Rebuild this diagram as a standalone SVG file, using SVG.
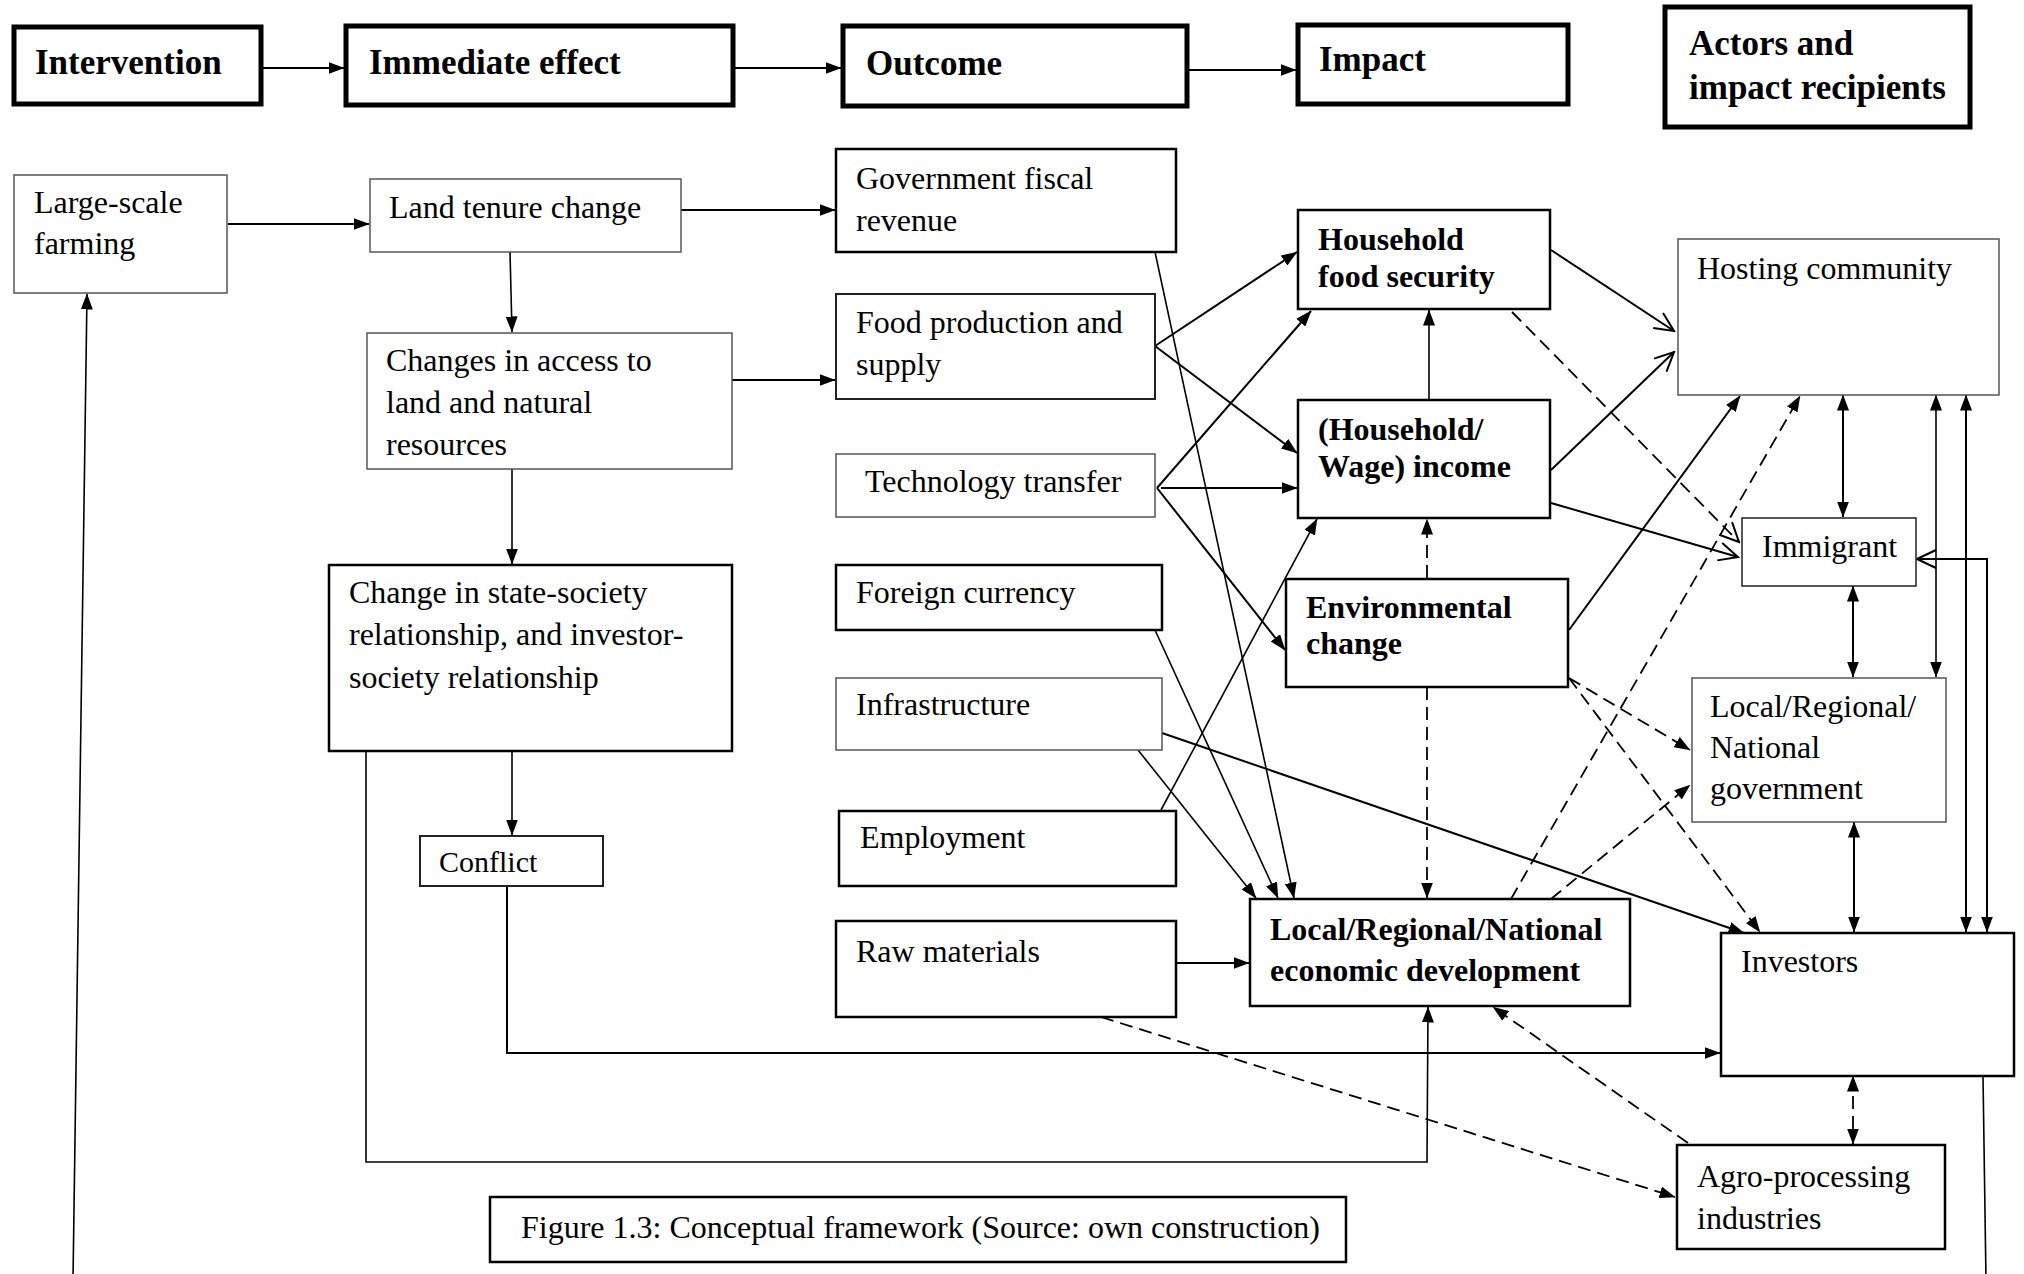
<svg xmlns="http://www.w3.org/2000/svg" width="2024" height="1274" viewBox="0 0 2024 1274">
<style>
text{font-family:"Liberation Serif","Times New Roman",serif;font-size:32px;fill:#000}
.b{font-weight:bold}
.h{font-weight:bold;font-size:35px}
.hdr{fill:#fff;stroke:#000;stroke-width:5}
.tk{fill:#fff;stroke:#000;stroke-width:2.5}
.md{fill:#fff;stroke:#222;stroke-width:2}
.tn{fill:#fff;stroke:#555;stroke-width:1.5}
.c{fill:none;stroke:#000;stroke-width:2}
.c1{fill:none;stroke:#000;stroke-width:1.6}
.d{fill:none;stroke:#000;stroke-width:1.8;stroke-dasharray:13 7}
.f{marker-end:url(#af)}
.fs{marker-start:url(#af)}
.o{marker-end:url(#ao)}
.os{marker-start:url(#ao)}
</style>
<defs>
<marker id="af" markerUnits="userSpaceOnUse" viewBox="0 0 16 12" markerWidth="16" markerHeight="12" refX="15.5" refY="6" orient="auto-start-reverse"><path d="M0,0 L16,6 L0,12 z" fill="#000"/></marker>
<marker id="ao" markerUnits="userSpaceOnUse" viewBox="0 0 22 20" markerWidth="22" markerHeight="20" refX="20" refY="10" orient="auto-start-reverse"><path d="M1,1 L20,10 L1,19" fill="none" stroke="#000" stroke-width="2"/></marker>
</defs>
<rect width="2024" height="1274" fill="#fff"/>

<g id="connectors">
<path class="c f" d="M263,68 H344"/>
<path class="c f" d="M735,68 H841"/>
<path class="c f" d="M1189,70 H1296"/>

<path class="c f" d="M228,224 H369"/>
<path class="c f" d="M681,210 H835"/>
<path class="c1 f" d="M510,252 L512,332"/>
<path class="c f" d="M732,380 H835"/>
<path class="c1 f" d="M512,469 V564"/>
<path class="c1 f" d="M512,751 V835"/>
<path class="c f" d="M507,886 V1053 H1720"/>
<path class="c1 f" d="M366,751 V1162 H1427 L1428,1007"/>
<path class="c1 f" d="M73,1280 L87,294"/>
<path class="c1" d="M1983,1076 L1986,1280"/>

<path class="c f" d="M1155,346 L1297,252"/>
<path class="c f" d="M1155,346 L1297,453"/>
<path class="c f" d="M1157,488 L1311,311"/>
<path class="c f" d="M1161,488 H1297"/>
<path class="c f" d="M1157,488 L1285,650"/>
<path class="c1 f" d="M1155,252 L1294,898"/>
<path class="c1 f" d="M1155,630 L1278,898"/>
<path class="c1 f" d="M1138,750 L1256,898"/>
<path class="c f" d="M1162,733 L1744,933"/>
<path class="c1 f" d="M1161,810 L1317,519"/>
<path class="c f" d="M1176,963 H1249"/>
<path class="d f" d="M1101,1017 L1675,1197"/>

<path class="c1 f" d="M1429,399 V310"/>
<path class="d f" d="M1427,578 V519"/>
<path class="d f" d="M1427,687 V898"/>

<path class="c o" d="M1551,250 L1674,331"/>
<path class="c o" d="M1551,470 L1674,352"/>
<path class="d o" d="M1512,312 L1739,542"/>
<path class="c o" d="M1551,503 L1738,557"/>
<path class="c f" d="M1569,630 L1740,396"/>
<path class="d f" d="M1511,899 L1800,396"/>
<path class="d f" d="M1569,678 L1690,750"/>
<path class="d f" d="M1569,678 L1760,932"/>
<path class="d f" d="M1551,899 L1690,785"/>
<path class="d f" d="M1688,1143 L1493,1007"/>

<path class="c f fs" d="M1843,395 V517"/>
<path class="c f fs" d="M1853,586 V677"/>
<path class="c f fs" d="M1854,822 V932"/>
<path class="c1 f fs" d="M1936,395 V677"/>
<path class="c f fs" d="M1966,395 V932"/>
<path class="c f os" d="M1917,559 H1987 V932"/>
<path class="d f fs" d="M1853,1076 V1144"/>
</g>

<g id="h-intervention"><rect class="hdr" x="14" y="27" width="247" height="77"/><text class="h" x="35" y="74">Intervention</text></g>
<g id="h-immediate"><rect class="hdr" x="346" y="26" width="387" height="79"/><text class="h" x="369" y="74">Immediate effect</text></g>
<g id="h-outcome"><rect class="hdr" x="843" y="26" width="344" height="80"/><text class="h" x="866" y="75">Outcome</text></g>
<g id="h-impact"><rect class="hdr" x="1298" y="25" width="270" height="79"/><text class="h" x="1319" y="71">Impact</text></g>
<g id="h-actors"><rect class="hdr" x="1665" y="7" width="305" height="120"/><text class="h" x="1689" y="55">Actors and</text><text class="h" x="1689" y="99">impact recipients</text></g>

<g id="n-largescale"><rect class="tn" x="14" y="175" width="213" height="118"/><text x="34" y="213">Large-scale</text><text x="34" y="254">farming</text></g>
<g id="n-landtenure"><rect class="tn" x="370" y="179" width="311" height="73"/><text x="389" y="218">Land tenure change</text></g>
<g id="n-access"><rect class="tn" x="367" y="333" width="365" height="136"/><text x="386" y="371">Changes in access to</text><text x="386" y="413">land and natural</text><text x="386" y="455">resources</text></g>
<g id="n-statesociety"><rect class="tk" x="329" y="565" width="403" height="186"/><text x="349" y="603">Change in state-society</text><text x="349" y="645">relationship, and investor-</text><text x="349" y="688">society relationship</text></g>
<g id="n-conflict"><rect class="md" x="420" y="836" width="183" height="50"/><text x="439" y="872" style="font-size:30px">Conflict</text></g>

<g id="n-fiscal"><rect class="tk" x="836" y="149" width="340" height="103"/><text x="856" y="189">Government fiscal</text><text x="856" y="231">revenue</text></g>
<g id="n-food"><rect class="md" x="836" y="294" width="319" height="105"/><text x="856" y="333">Food production and</text><text x="856" y="375">supply</text></g>
<g id="n-tech"><rect class="tn" x="836" y="454" width="319" height="63"/><text x="865" y="492">Technology transfer</text></g>
<g id="n-foreign"><rect class="tk" x="836" y="565" width="326" height="65"/><text x="856" y="603">Foreign currency</text></g>
<g id="n-infra"><rect class="tn" x="836" y="678" width="326" height="72"/><text x="856" y="715">Infrastructure</text></g>
<g id="n-employment"><rect class="tk" x="839" y="811" width="337" height="75"/><text x="860" y="848">Employment</text></g>
<g id="n-raw"><rect class="tk" x="836" y="921" width="340" height="96"/><text x="856" y="962">Raw materials</text></g>

<g id="n-hfs"><rect class="tk" x="1298" y="210" width="252" height="99"/><text class="b" x="1318" y="250">Household</text><text class="b" x="1318" y="287">food security</text></g>
<g id="n-wage"><rect class="tk" x="1298" y="400" width="252" height="118"/><text class="b" x="1318" y="440">(Household/</text><text class="b" x="1318" y="477">Wage) income</text></g>
<g id="n-env"><rect class="tk" x="1286" y="579" width="282" height="108"/><text class="b" x="1306" y="618">Environmental</text><text class="b" x="1306" y="654">change</text></g>
<g id="n-led"><rect class="tk" x="1250" y="899" width="380" height="107"/><text class="b" x="1270" y="940">Local/Regional/National</text><text class="b" x="1270" y="981">economic development</text></g>

<g id="n-hosting"><rect class="tn" x="1678" y="239" width="321" height="156"/><text x="1697" y="279">Hosting community</text></g>
<g id="n-immigrant"><rect class="md" x="1742" y="518" width="174" height="68" style="stroke-width:1.5"/><text x="1762" y="557">Immigrant</text></g>
<g id="n-gov"><rect class="tn" x="1692" y="678" width="254" height="144"/><text x="1710" y="717">Local/Regional/</text><text x="1710" y="758">National</text><text x="1710" y="799">government</text></g>
<g id="n-investors"><rect class="tk" x="1721" y="933" width="293" height="143"/><text x="1741" y="972">Investors</text></g>
<g id="n-agro"><rect class="tk" x="1677" y="1145" width="268" height="104"/><text x="1697" y="1187">Agro-processing</text><text x="1697" y="1229">industries</text></g>

<g id="caption"><rect class="tk" x="490" y="1197" width="856" height="65"/><text x="521" y="1238">Figure 1.3: Conceptual framework (Source: own construction)</text></g>
</svg>
